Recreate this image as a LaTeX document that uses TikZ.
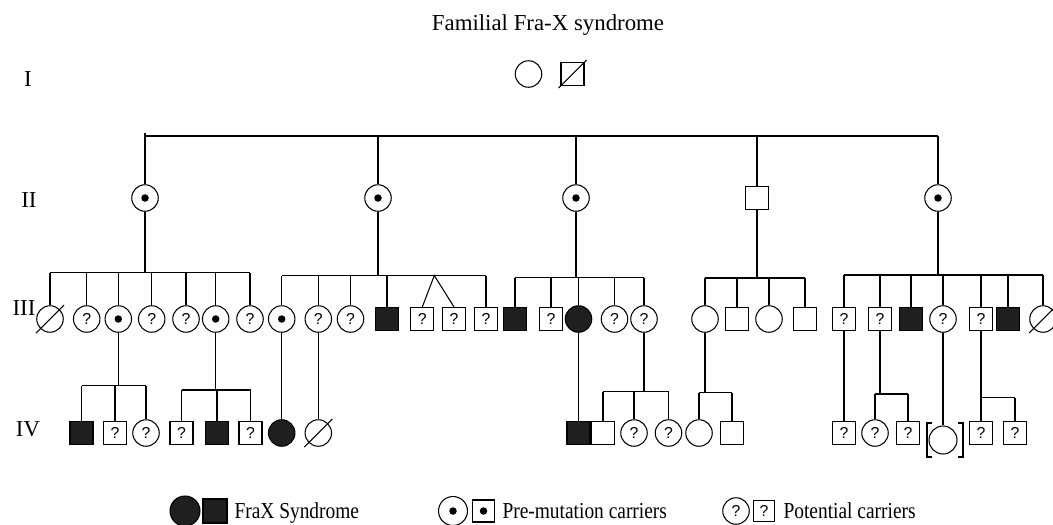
\documentclass[tikz,border=0pt]{standalone}
\usepackage{fontspec}
\setmainfont{Liberation Serif}
\newfontfamily\qmarkfont{Liberation Sans}
\usepackage{graphicx}
\usetikzlibrary{calc}
\newcommand*{\rowI}{74}
\newcommand*{\rowII}{198}
\newcommand*{\rowIII}{319}
\newcommand*{\rowIV}{433}
\newcommand*{\rowkey}{511}
\newcommand*{\deceased}[1]{\draw ($(#1)+(-14,14)$) -- ($(#1)+(14,-14)$);}
\tikzset{
    person/.style={draw, line width=0.6pt, inner sep=0pt, font=\qmarkfont\fontsize{9}{9}\selectfont},
    female/.style={person, circle, minimum size=0.53cm},
    male/.style={person, rectangle, minimum size=0.46cm},
    affected/.style={fill=black!88},
    carrier/.style={path picture={\fill (path picture bounding box.center) circle (0.075cm);}},
    label text/.style={font=\fontsize{13}{15}\selectfont, inner sep=0pt, anchor=base}
}

\begin{document}
\begin{tikzpicture}[x=0.02cm, y=-0.02cm, line width=0.6pt]
    \useasboundingbox (0,0) rectangle (1053,524);
    % title and generation labels
    \node[label text] (title) at (548,30.7) {Familial Fra-X syndrome};
    \node[label text] (genI) at (28,86) {I};
    \node[label text] (genII) at (29,207) {II};
    \node[label text] (genIII) at (24,315) {III};
    \node[label text] (genIV) at (28,436.7) {IV};
    % generation I
    \node[female] (i1) at (528.5,\rowI) {};
    \node[male] (i2) at (572.5,\rowI) {};
    \deceased{i2}
    % generation II
    \node[female, carrier] (ii1) at (145,\rowII) {};
    \node[female, carrier] (ii2) at (378,\rowII) {};
    \node[female, carrier] (ii3) at (576,\rowII) {};
    \node[male] (ii4) at (757,\rowII) {};
    \node[female, carrier] (ii5) at (938,\rowII) {};
    \coordinate (topline) at (0,136);
    \draw (ii1 |- topline) -- (ii5 |- topline);
    \draw (ii1 |- topline) -- ++(0,-3);
    \foreach \c in {1,...,5} \draw (ii\c.north) -- (ii\c |- topline);
    % generation III, children of II-1
    \node[female] (iii1) at (50,\rowIII) {};
    \deceased{iii1}
    \node[female] (iii2) at (86.7,\rowIII) {?};
    \node[female, carrier] (iii3) at (118.3,\rowIII) {};
    \node[female] (iii4) at (151.7,\rowIII) {?};
    \node[female] (iii5) at (186,\rowIII) {?};
    \node[female, carrier] (iii6) at (215.7,\rowIII) {};
    \node[female] (iii7) at (250,\rowIII) {?};
    \coordinate (sibA) at (0,272.7);
    \draw (ii1.south) -- (ii1 |- sibA);
    \draw (iii1 |- sibA) -- (iii7 |- sibA);
    \foreach \c in {1,...,7} \draw (iii\c.north) -- (iii\c |- sibA);
    % generation III, children of II-2
    \node[female, carrier] (iii8) at (281.7,\rowIII) {};
    \node[female] (iii9) at (318.3,\rowIII) {?};
    \node[female] (iii10) at (350.5,\rowIII) {?};
    \node[male, affected] (iii11) at (387,\rowIII) {};
    \node[male] (iii12) at (422.3,\rowIII) {?};
    \node[male] (iii13) at (454,\rowIII) {?};
    \node[male] (iii14) at (486,\rowIII) {?};
    \coordinate (sibB) at (0,275.5);
    \coordinate (twins) at (434.3,275.5);
    \draw (ii2.south) -- (ii2 |- sibB);
    \draw (iii8 |- sibB) -- (iii14 |- sibB);
    \foreach \c in {8,9,10,11,14} \draw (iii\c.north) -- (iii\c |- sibB);
    \draw (iii12.north) -- (twins) -- (iii13.north);
    % generation III, children of II-3
    \node[male, affected] (iii15) at (515,\rowIII) {};
    \node[male] (iii16) at (551,\rowIII) {?};
    \node[female, affected] (iii17) at (578.5,\rowIII) {};
    \node[female] (iii18) at (614.5,\rowIII) {?};
    \node[female] (iii19) at (644,\rowIII) {?};
    \coordinate (sibC) at (0,277.5);
    \draw (ii3.south) -- (ii3 |- sibC);
    \draw (iii15 |- sibC) -- (iii19 |- sibC);
    \foreach \c in {15,...,19} \draw (iii\c.north) -- (iii\c |- sibC);
    % generation III, children of II-4
    \node[female] (iii20) at (705,\rowIII) {};
    \node[male] (iii21) at (737,\rowIII) {};
    \node[female] (iii22) at (769,\rowIII) {};
    \node[male] (iii23) at (805,\rowIII) {};
    \coordinate (sibD) at (0,278);
    \draw (ii4.south) -- (ii4 |- sibD);
    \draw (iii20 |- sibD) -- (iii23 |- sibD);
    \foreach \c in {20,...,23} \draw (iii\c.north) -- (iii\c |- sibD);
    % generation III, children of II-5
    \node[male] (iii24) at (844,\rowIII) {?};
    \node[male] (iii25) at (880,\rowIII) {?};
    \node[male, affected] (iii26) at (911,\rowIII) {};
    \node[female] (iii27) at (943,\rowIII) {?};
    \node[male] (iii28) at (981,\rowIII) {?};
    \node[male, affected] (iii29) at (1008,\rowIII) {};
    \node[female] (iii30) at (1043,\rowIII) {};
    \deceased{iii30}
    \coordinate (sibE) at (0,275);
    \draw (ii5.south) -- (ii5 |- sibE);
    \draw (iii24 |- sibE) -- (iii30 |- sibE);
    \foreach \c in {24,...,30} \draw (iii\c.north) -- (iii\c |- sibE);
    % generation IV, left part
    \node[male, affected] (iv1) at (81.5,\rowIV) {};
    \node[male] (iv2) at (115,\rowIV) {?};
    \node[female] (iv3) at (146,\rowIV) {?};
    \coordinate (sibF) at (0,385.7);
    \draw (iii3.south) -- (iii3 |- sibF);
    \draw (iv1 |- sibF) -- (iv3 |- sibF);
    \foreach \c in {1,2,3} \draw (iv\c.north) -- (iv\c |- sibF);
    \node[male] (iv4) at (181.5,\rowIV) {?};
    \node[male, affected] (iv5) at (217,\rowIV) {};
    \node[male] (iv6) at (250.5,\rowIV) {?};
    \coordinate (sibG) at (0,390);
    \draw (iii6.south) -- (iii6 |- sibG);
    \draw (iv4 |- sibG) -- (iv6 |- sibG);
    \foreach \c in {4,5,6} \draw (iv\c.north) -- (iv\c |- sibG);
    \node[female, affected] (iv7) at (281.7,\rowIV) {};
    \draw (iii8.south) -- (iv7.north);
    \node[female] (iv8) at (318.3,\rowIV) {};
    \deceased{iv8}
    \draw (iii9.south) -- (iv8.north);
    % generation IV, middle part
    \node[male, affected] (iv9) at (578.5,\rowIV) {};
    \draw (iii17.south) -- (iv9.north);
    \node[male] (iv10) at (603,\rowIV) {};
    \node[female] (iv11) at (634,\rowIV) {?};
    \node[female] (iv12) at (668.5,\rowIV) {?};
    \coordinate (sibH) at (0,391.7);
    \draw (iii19.south) -- (iii19 |- sibH);
    \draw (iv10 |- sibH) -- (iv12 |- sibH);
    \foreach \c in {10,11,12} \draw (iv\c.north) -- (iv\c |- sibH);
    \node[female] (iv13) at (699,\rowIV) {};
    \node[male] (iv14) at (732,\rowIV) {};
    \coordinate (sibI) at (0,392.7);
    \draw (iii20.south) -- (iii20 |- sibI);
    \draw (iv13 |- sibI) -- (iv14 |- sibI);
    \foreach \c in {13,14} \draw (iv\c.north) -- (iv\c |- sibI);
    % generation IV, right part
    \node[male] (iv15) at (844,\rowIV) {?};
    \draw (iii24.south) -- (iv15.north);
    \node[female] (iv16) at (875,\rowIV) {?};
    \node[male] (iv17) at (908,\rowIV) {?};
    \coordinate (sibJ) at (0,394);
    \draw (iii25.south) -- (iii25 |- sibJ);
    \draw (iv16 |- sibJ) -- (iv17 |- sibJ);
    \foreach \c in {16,17} \draw (iv\c.north) -- (iv\c |- sibJ);
    \node[female, minimum size=0.56cm] (iv18) at (943,440) {};
    \draw (iii27.south) -- (iv18.north);
    \draw ($(iv18)+(-11,-17)$) -- ++(-5,0) -- ++(0,34) -- ++(5,0);
    \draw ($(iv18)+(15,-17)$) -- ++(5,0) -- ++(0,34) -- ++(-5,0);
    \node[male] (iv19) at (981,\rowIV) {?};
    \node[male] (iv20) at (1015,\rowIV) {?};
    \coordinate (sibK) at (0,397.7);
    \draw (iii28.south) -- (iii28 |- sibK);
    \draw (iv19 |- sibK) -- (iv20 |- sibK);
    \foreach \c in {19,20} \draw (iv\c.north) -- (iv\c |- sibK);
    % key
    \node[female, affected, minimum size=0.6cm] (keyf) at (185,\rowkey) {};
    \node[male, affected, minimum size=0.48cm] (keym) at (215,\rowkey) {};
    \node[label text, anchor=base west] (keyaff) at (234,518) {\scalebox{0.85}[1]{FraX Syndrome}};
    \node[female, carrier, minimum size=0.58cm] (keycf) at (453,\rowkey) {};
    \node[male, carrier, minimum size=0.44cm] (keycm) at (483.5,\rowkey) {};
    \node[label text, anchor=base west] (keycar) at (502,518) {\scalebox{0.85}[1]{Pre-mutation carriers}};
    \node[female] (keypf) at (736,\rowkey) {?};
    \node[male, minimum size=0.42cm] (keypm) at (764,\rowkey) {?};
    \node[label text, anchor=base west] (keypot) at (783,518) {\scalebox{0.85}[1]{Potential carriers}};
\end{tikzpicture}
\end{document}
